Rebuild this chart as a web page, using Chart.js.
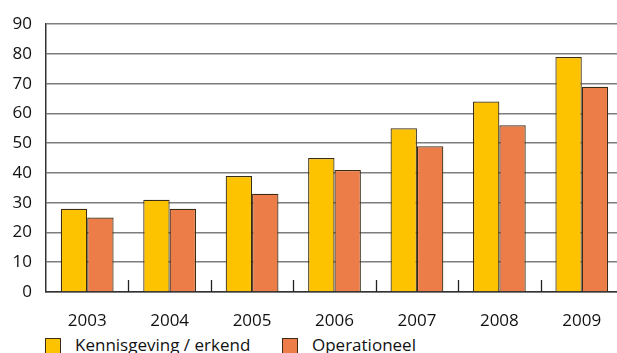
<!DOCTYPE html>
<html>
<head>
<meta charset="utf-8">
<script src="https://cdn.jsdelivr.net/npm/chart.js@4/dist/chart.umd.min.js"></script>
<style>
  html, body { margin: 0; padding: 0; background: #fff; overflow: hidden; width: 617px; height: 353px; }
  #wrap { position: absolute; left: 0; top: 0; width: 623px; height: 330px; }
  #legend { position: absolute; left: 45px; top: 338px; font: 17px "Open Sans", sans-serif; color: #111; white-space: nowrap; }
  .item { position: absolute; top: 0; height: 20px; line-height: 20px; }
  .box { position: absolute; left: 0; top: 0; width: 14px; height: 14px; border: 1px solid #3b2c14; }
  .lbl { position: absolute; left: 30px; top: -3px; }
</style>
</head>
<body>
<div id="wrap"><canvas id="chart" width="623" height="330"></canvas></div>
<div id="legend"></div>
<script>
const years = ['2003', '2004', '2005', '2006', '2007', '2008', '2009'];
const kennisgeving = [28, 31, 39, 45, 55, 64, 79];
const operationeel = [25, 28, 33, 41, 49, 56, 69];
const seriesNames = ['Kennisgeving / erkend', 'Operationeel'];
const seriesColors = ['#fdc300', '#ec7c48'];

// small upward ticks between categories, like the original
const betweenTicks = {
    id: 'betweenTicks',
    afterDatasetsDraw(chart) {
        const x = chart.scales.x, area = chart.chartArea, ctx = chart.ctx;
        ctx.save();
        ctx.strokeStyle = '#222';
        ctx.lineWidth = 1.3;
        for (let i = 1; i < years.length; i++) {
            const px = Math.round((x.getPixelForValue(i - 1) + x.getPixelForValue(i)) / 2) + 0.5;
            ctx.beginPath();
            ctx.moveTo(px, area.bottom);
            ctx.lineTo(px, area.bottom - 12);
            ctx.stroke();
        }
        ctx.restore();
    }
};

const ctx = document.getElementById('chart').getContext('2d');
new Chart(ctx, {
    type: 'bar',
    data: {
        labels: years,
        datasets: [
            { label: seriesNames[0], data: kennisgeving, backgroundColor: seriesColors[0], borderColor: '#3b2c14', borderWidth: 1.2 },
            { label: seriesNames[1], data: operationeel, backgroundColor: seriesColors[1], borderColor: '#3b2c14', borderWidth: 1.2 }
        ]
    },
    options: {
        responsive: false,
        animation: false,
        layout: { padding: { top: 21, right: 0, bottom: 0, left: 0 } },
        categoryPercentage: 0.64,
        barPercentage: 1,
        plugins: { legend: { display: false }, tooltip: { enabled: false } },
        scales: {
            x: {
                grid: { display: false },
                border: { display: true, color: '#333', width: 1.5 },
                ticks: { color: '#111', padding: 11, font: { family: 'Open Sans', size: 17 } },
                afterFit: s => { s.height = 38; }
            },
            y: {
                min: 0, max: 90,
                grid: { color: '#7d7d7d', lineWidth: 1.6, drawTicks: false },
                border: { display: true, color: '#333', width: 1.5 },
                ticks: { stepSize: 10, color: '#111', padding: 14, font: { family: 'Open Sans', size: 17 } },
                afterFit: s => { s.width = 46; }
            }
        }
    },
    plugins: [betweenTicks]
});

// legend below the chart
const legend = document.getElementById('legend');
const offsets = [0, 237];
seriesNames.forEach((name, i) => {
    const item = document.createElement('div');
    item.className = 'item';
    item.style.left = offsets[i] + 'px';
    item.innerHTML = `<span class="box" style="background:${seriesColors[i]}"></span><span class="lbl">${name}</span>`;
    legend.appendChild(item);
});
</script>
</body>
</html>
